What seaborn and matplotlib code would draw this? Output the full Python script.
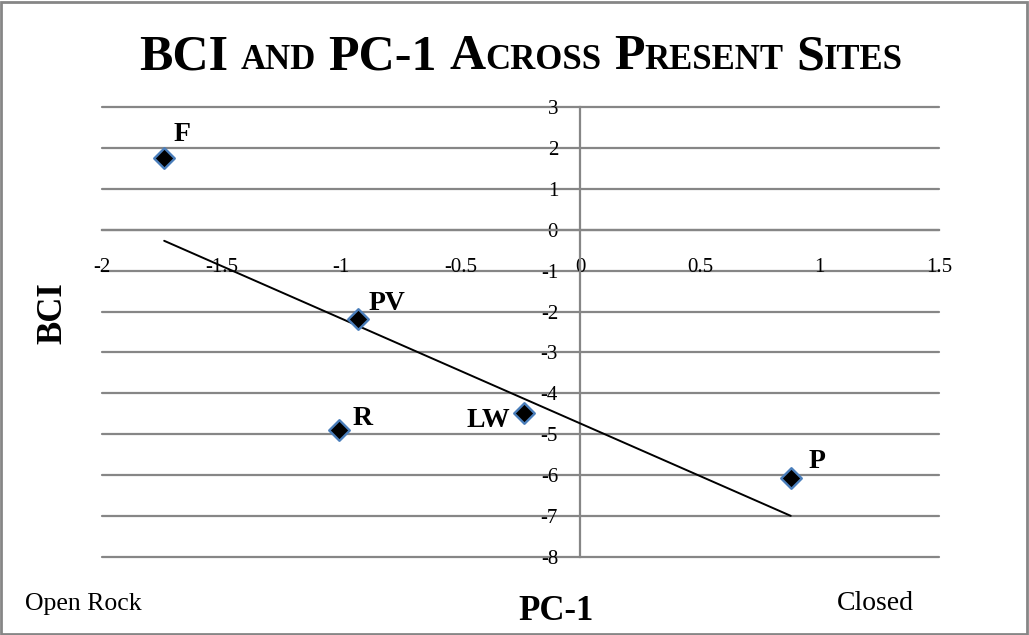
import numpy as np
import pandas as pd
import matplotlib
matplotlib.use("Agg")
import matplotlib.pyplot as plt
import seaborn as sns
from matplotlib.offsetbox import TextArea, HPacker, AnnotationBbox
from matplotlib.patches import Rectangle

# ---- data ----
sites = ["F", "PV", "R", "LW", "P"]
pc1 = [-1.74, -0.93, -1.01, -0.235, 0.88]
bci = [1.76, -2.19, -4.90, -4.49, -6.07]
x_ticks = [-2, -1.5, -1, -0.5, 0, 0.5, 1, 1.5]
x_tick_labels = ["-2", "-1.5", "-1", "-0.5", "0", "0.5", "1", "1.5"]
y_ticks = [3, 2, 1, 0, -1, -2, -3, -4, -5, -6, -7, -8]
y_tick_labels = ["3", "2", "1", "0", "-1", "-2", "-3", "-4", "-5", "-6", "-7", "-8"]

df = pd.DataFrame({"site": sites, "PC-1": pc1, "BCI": bci})

# label placement (pixel offsets, style only)
label_style = {
    "F": (9, 17, "left"),
    "PV": (11, 9, "left"),
    "R": (14, 5, "left"),
    "LW": (-14, -14, "right"),
    "P": (18, 10, "left"),
}

sns.set_style("white")
plt.rcParams["font.family"] = ["Liberation Serif", "DejaVu Serif"]
plt.rcParams["text.color"] = "black"
plt.rcParams["xtick.labelcolor"] = "black"
plt.rcParams["ytick.labelcolor"] = "black"

GREY = "#868686"

fig = plt.figure(figsize=(10.29, 6.35), dpi=100)
ax = fig.add_axes([102 / 1029, 1 - 557 / 635, 837 / 1029, 450 / 635])

# regression trendline
sns.regplot(data=df, x="PC-1", y="BCI", ax=ax, scatter=False, ci=None,
            truncate=True, color="black", line_kws={"lw": 1.4, "zorder": 3})

sns.scatterplot(data=df, x="PC-1", y="BCI", ax=ax, marker="D", s=110,
                color="black", edgecolor="#4a7ebb", linewidth=1.7, zorder=4)

ax.set_xlim(-2, 1.5)
ax.set_ylim(-8, 3)

ax.set_yticks(y_ticks)
ax.set_yticklabels(y_tick_labels)
ax.set_xticks(x_ticks)
ax.set_xticklabels(x_tick_labels)
ax.grid(False)
for yv in y_ticks:
    ax.axhline(yv, color=GREY, lw=1.6, zorder=0.5, clip_on=False)

for s in ["top", "right"]:
    ax.spines[s].set_visible(False)
ax.spines["left"].set_position(("data", 0))
ax.spines["bottom"].set_position(("data", 0))
for s in ["left", "bottom"]:
    ax.spines[s].set_color(GREY)
    ax.spines[s].set_linewidth(1.6)
    ax.spines[s].set_zorder(1)

ax.tick_params(axis="x", direction="out", length=5, width=1.4, color=GREY,
               labelsize=15, labelcolor="black", pad=15)
ax.tick_params(axis="y", direction="out", length=4, width=1.4, color=GREY,
               labelsize=15, labelcolor="black", pad=12)
ax.set_xlabel("")
ax.set_ylabel("")

# data labels
for s, x, y in zip(sites, pc1, bci):
    dx, dy, ha = label_style[s]
    ax.annotate(s, (x, y), xytext=(dx, dy), textcoords="offset pixels",
                ha=ha, va="baseline", fontsize=20, fontweight="bold",
                color="black", zorder=5)

# axis titles & side annotations
fig.text(53 / 1029, 1 - 313 / 635, "BCI", rotation=90, ha="center", va="center",
         fontsize=25, fontweight="bold", color="black")
fig.text(556 / 1029, 1 - 611 / 635, "PC-1", ha="center", va="center",
         fontsize=25, fontweight="bold", color="black")
fig.text(25 / 1029, 1 - 604 / 635, "Open Rock", ha="left", va="center",
         fontsize=18.5, color="black")
fig.text(837 / 1029, 1 - 604 / 635, "Closed", ha="left", va="center",
         fontsize=20, color="black")

# title with small caps
BIG, SMALL = 36, 25
def ta(t, size):
    return TextArea(t, textprops=dict(fontsize=size, fontweight="bold", color="black",
                                      family=["Liberation Serif", "DejaVu Serif"]))
words = [
    [("BCI", BIG)],
    [("AND", SMALL)],
    [("PC-1", BIG)],
    [("A", BIG), ("CROSS", SMALL)],
    [("P", BIG), ("RESENT", SMALL)],
    [("S", BIG), ("ITES", SMALL)],
]
word_boxes = [HPacker(children=[ta(t, sz) for t, sz in w], align="baseline", pad=0, sep=0)
              for w in words]
title_box = HPacker(children=word_boxes, align="baseline", pad=0, sep=9)
ab = AnnotationBbox(title_box, (521 / 1029, 1 - 57 / 635), xycoords="figure fraction",
                    box_alignment=(0.5, 0.5), frameon=False)
fig.add_artist(ab)

# chart border
fig.add_artist(Rectangle((0.001, 0.002), 0.997, 0.995, transform=fig.transFigure,
                         fill=False, edgecolor=GREY, lw=2))

fig.savefig("out.png", dpi=100)
